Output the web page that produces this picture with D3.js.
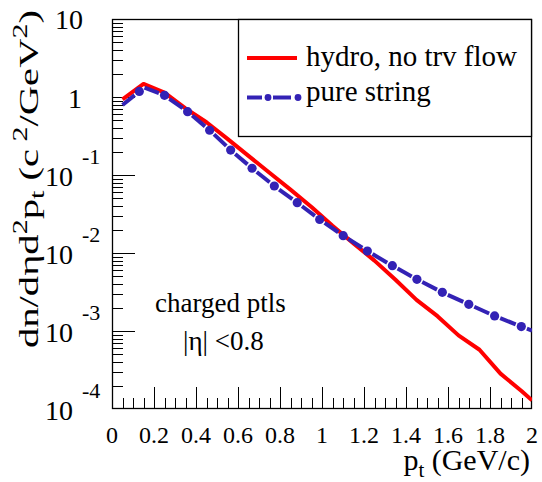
<!DOCTYPE html>
<html><head><meta charset="utf-8">
<script src="https://cdn.jsdelivr.net/npm/d3@7"></script>
<style>body{margin:0;background:#fff}</style>
</head><body>
<script>
// ---- data ----
const hydroPt = [0.05,0.15,0.25,0.35,0.45,0.55,0.65,0.75,0.85,0.95,1.05,1.15,1.25,1.35,1.45,1.55,1.65,1.75,1.85,1.95,2.0];
const hydroVal = [0.935,1.47,1.14,0.715,0.475,0.290,0.176,0.107,0.065,0.0389,0.0223,0.0133,0.00798,0.00454,0.00251,0.00155,0.000879,0.000575,0.000284,0.000170,0.000129];
const stringPt = [0.05,0.13,0.155,0.25,0.36,0.465,0.565,0.667,0.773,0.882,0.989,1.101,1.216,1.335,1.452,1.573,1.699,1.822,1.949,2.0];
const stringVal = [0.789,1.18,1.32,1.05,0.649,0.375,0.209,0.122,0.0723,0.0442,0.0269,0.0167,0.0106,0.00687,0.0046,0.00313,0.0022,0.00156,0.00114,0.00101];
const stringMarked = [false,true,false,true,true,true,true,true,true,true,true,true,true,true,true,true,true,true,true,false];
const xTickLabels = ["0","0.2","0.4","0.6","0.8","1","1.2","1.4","1.6","1.8","2"];
const yDecades = [1,0,-1,-2,-3,-4];
const legendLabels = ["hydro, no trv flow","pure string"];
const noteLines = ["charged ptls","|\u03b7| <0.8"];

const FONT='"Liberation Serif"';
(function(){const c=document.createElement("canvas").getContext("2d");
  [26,28,30].forEach(s=>{c.font=`${s}px ${FONT}, monospace`;c.measureText("hydro 0.2 Gg 10");});})();

const W=542,H=482, L=112,R=532,T=19,B=409;
const RED="#ff0000", BLUE="#3322b5";
const svg=d3.select("body").append("svg").attr("width",W).attr("height",H);
svg.append("rect").attr("width",W).attr("height",H).attr("fill","#fff");
const x=d3.scaleLinear().domain([0,2]).range([L,R]);
const y=d3.scaleLog().domain([1e-4,10]).range([B,T]);
function txt(sel){return sel.append("text").style("font-family",FONT);}

svg.append("clipPath").attr("id","clip").append("rect").attr("x",L).attr("y",T).attr("width",R-L).attr("height",B-T);

// ticks
const tk=svg.append("g").attr("stroke","#000").attr("stroke-width",1);
for(let i=1;i<40;i++){const v=i*0.05;
  const major=(i%4===0); const px=Math.round(x(v))+0.5;
  tk.append("line").attr("x1",px).attr("x2",px).attr("y1",B).attr("y2",B-(major?22:11));}
for(let d=-4; d<=0; d++){
  for(let m=1;m<=9;m++){const v=m*Math.pow(10,d); const py=Math.round(y(v))+0.5;
    if(m===1 && d===-4) continue;
    tk.append("line").attr("y1",py).attr("y2",py).attr("x1",L).attr("x2",L+(m===1?23:11));}
}

// frame
svg.append("rect").attr("x",L+0.5).attr("y",T+0.5).attr("width",R-L-1).attr("height",B-T-1)
  .attr("fill","none").attr("stroke","#000").attr("stroke-width",1.3);

// legend box
svg.append("rect").attr("x",238.5).attr("y",T+0.5).attr("width",R-238.5-0.5).attr("height",136-T)
  .attr("fill","#fff").attr("stroke","#000").attr("stroke-width",1.3);

// curves
const plot=svg.append("g").attr("clip-path","url(#clip)");
const hydroData=hydroPt.map((p,i)=>[p,hydroVal[i]]);
plot.append("path").datum(hydroData).attr("fill","none").attr("stroke",RED).attr("stroke-width",4)
  .attr("stroke-linejoin","round")
  .attr("d",d3.line().x(d=>x(d[0])).y(d=>y(d[1])));

const sData=stringPt.map((p,i)=>({x:x(p),y:y(stringVal[i]),m:stringMarked[i]}));
for(let i=0;i<sData.length-1;i++){
  const a=sData[i],b=sData[i+1]; const dx=b.x-a.x, dy=b.y-a.y; const len=Math.hypot(dx,dy);
  const ux=dx/len, uy=dy/len; const gs=a.m?6:0, ge=b.m?6:0;
  if(len-gs-ge<=0.5) continue;
  plot.append("line").attr("x1",a.x+ux*gs).attr("y1",a.y+uy*gs).attr("x2",b.x-ux*ge).attr("y2",b.y-uy*ge)
    .attr("stroke",BLUE).attr("stroke-width",4);
}
plot.selectAll("circle.mk").data(sData.filter(d=>d.m)).enter().append("circle")
  .attr("cx",d=>d.x).attr("cy",d=>d.y).attr("r",4.6).attr("fill",BLUE);

// x tick labels
const xl=svg.append("g");
xTickLabels.forEach((d,i)=>{
  txt(xl).attr("x",x(i*0.2)).attr("y",443).attr("text-anchor","middle").attr("font-size",24).text(d);
});

// y tick labels
yDecades.forEach(d=>{
  const py=y(Math.pow(10,d));
  if(d===1){txt(svg).attr("x",83).attr("y",py+10).attr("text-anchor","end").attr("font-size",28).text("10");}
  else if(d===0){txt(svg).attr("x",82).attr("y",py+11).attr("text-anchor","end").attr("font-size",28).text("1");}
  else{
    txt(svg).attr("x",73).attr("y",py+11).attr("text-anchor","end").attr("font-size",28).text("10");
    txt(svg).attr("x",82).attr("y",py-11).attr("text-anchor","start").attr("font-size",22).text(String(d));
  }
});

// x title
const xt=txt(svg).attr("x",530).attr("y",470).attr("text-anchor","end").attr("font-size",30);
xt.append("tspan").text("p");
xt.append("tspan").attr("font-size",21).attr("dy",7).text("t");
xt.append("tspan").attr("dy",-7).text(" (GeV/c)");

// y title (rotated, stretched along its length like the original)
const pieces=[["dn/d\u03b7d",27,0],["2",20,-11],["p",27,0],["t",20,6],[" (c",27,0],[" 2",20,-11],["/GeV",27,0],["2",20,-11],[")",27,0]];
const yg=svg.append("g").attr("transform","translate(38,348) rotate(-90)");
const yt=txt(yg).attr("x",0).attr("y",0).attr("font-size",27)
  .attr("textLength",338).attr("lengthAdjust","spacingAndGlyphs");
let prev=0;
pieces.forEach(p=>{yt.append("tspan").attr("font-size",p[1]).attr("dy",p[2]-prev).text(p[0]); prev=p[2];});

// legend
svg.append("line").attr("x1",247).attr("x2",297).attr("y1",58).attr("y2",58).attr("stroke",RED).attr("stroke-width",4);
svg.append("line").attr("x1",247).attr("x2",262).attr("y1",97.5).attr("y2",97.5).attr("stroke",BLUE).attr("stroke-width",4);
svg.append("line").attr("x1",273).attr("x2",291).attr("y1",97.5).attr("y2",97.5).attr("stroke",BLUE).attr("stroke-width",4);
svg.append("circle").attr("cx",268).attr("cy",97.5).attr("r",3.4).attr("fill",BLUE);
svg.append("circle").attr("cx",298).attr("cy",97.5).attr("r",3.4).attr("fill",BLUE);
txt(svg).attr("x",306).attr("y",66).attr("font-size",29).text(legendLabels[0]);
txt(svg).attr("x",306).attr("y",101).attr("font-size",29).text(legendLabels[1]);

// note
txt(svg).attr("x",155).attr("y",312).attr("font-size",27).text(noteLines[0]);
txt(svg).attr("x",183).attr("y",350).attr("font-size",27).text(noteLines[1]);
</script>
</body></html>
